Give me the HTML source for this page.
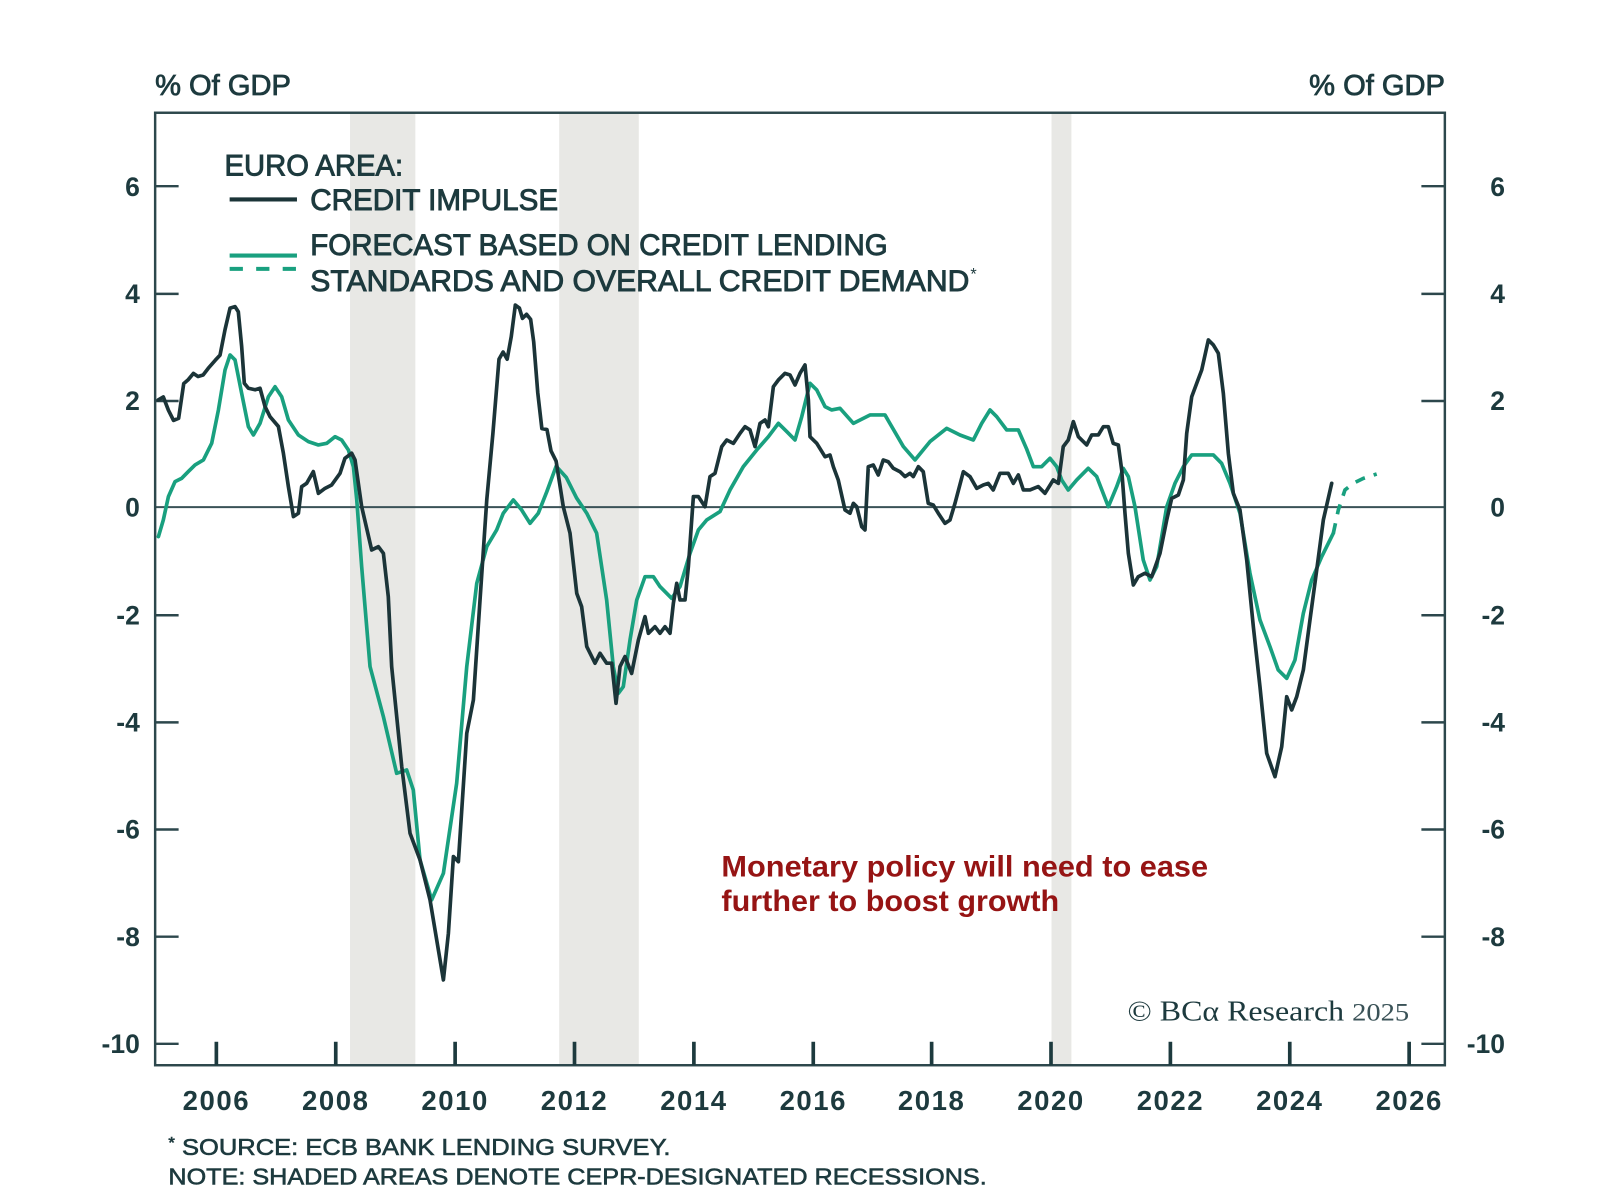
<!DOCTYPE html>
<html>
<head>
<meta charset="utf-8">
<style>
  html, body { margin:0; padding:0; background:#ffffff; }
  svg { display:block; }
  text { font-family: "Liberation Sans", "DejaVu Sans", sans-serif; fill:#1d3a3e; }
</style>
</head>
<body>
<svg width="1600" height="1204" viewBox="0 0 1568 1180" xmlns="http://www.w3.org/2000/svg">
  <rect x="0" y="0" width="1568" height="1180" fill="#ffffff"/>

  <!-- recession shading -->
  <rect x="343" y="111" width="64" height="932" fill="#e8e8e5"/>
  <rect x="548" y="111" width="78" height="932" fill="#e8e8e5"/>
  <rect x="1030.5" y="111" width="19.5" height="932" fill="#e8e8e5"/>

  <!-- zero line -->
  <line x1="152" y1="497" x2="1416" y2="497" stroke="#3a5257" stroke-width="2"/>

  <!-- plot border -->
  <rect x="152" y="110.5" width="1264" height="933.5" fill="none" stroke="#2c474c" stroke-width="2.4"/>

  <!-- left ticks -->
  <g stroke="#2c474c" stroke-width="2.4">
    <line x1="152" y1="182.5" x2="175" y2="182.5"/>
    <line x1="152" y1="288" x2="175" y2="288"/>
    <line x1="152" y1="393" x2="175" y2="393"/>
    <line x1="152" y1="603" x2="175" y2="603"/>
    <line x1="152" y1="708" x2="175" y2="708"/>
    <line x1="152" y1="813" x2="175" y2="813"/>
    <line x1="152" y1="918" x2="175" y2="918"/>
    <line x1="152" y1="1023" x2="175" y2="1023"/>
    <!-- right ticks -->
    <line x1="1393" y1="182.5" x2="1416" y2="182.5"/>
    <line x1="1393" y1="288" x2="1416" y2="288"/>
    <line x1="1393" y1="393" x2="1416" y2="393"/>
    <line x1="1393" y1="603" x2="1416" y2="603"/>
    <line x1="1393" y1="708" x2="1416" y2="708"/>
    <line x1="1393" y1="813" x2="1416" y2="813"/>
    <line x1="1393" y1="918" x2="1416" y2="918"/>
    <line x1="1393" y1="1023" x2="1416" y2="1023"/>
  </g>
  <!-- bottom ticks -->
  <g stroke="#1d3a3e" stroke-width="3.6">
    <line x1="212" y1="1044" x2="212" y2="1021"/>
    <line x1="329" y1="1044" x2="329" y2="1021"/>
    <line x1="446" y1="1044" x2="446" y2="1021"/>
    <line x1="563" y1="1044" x2="563" y2="1021"/>
    <line x1="680" y1="1044" x2="680" y2="1021"/>
    <line x1="797" y1="1044" x2="797" y2="1021"/>
    <line x1="913" y1="1044" x2="913" y2="1021"/>
    <line x1="1030" y1="1044" x2="1030" y2="1021"/>
    <line x1="1147" y1="1044" x2="1147" y2="1021"/>
    <line x1="1264" y1="1044" x2="1264" y2="1021"/>
    <line x1="1381" y1="1044" x2="1381" y2="1021"/>
  </g>

  <!-- axis titles -->
  <text x="152" y="93" font-size="28" textLength="133" lengthAdjust="spacingAndGlyphs" stroke="#1d3a3e" stroke-width="0.8">% Of GDP</text>
  <text x="1283" y="93" font-size="28" textLength="133" lengthAdjust="spacingAndGlyphs" stroke="#1d3a3e" stroke-width="0.8">% Of GDP</text>

  <!-- left tick labels -->
  <g font-size="26" font-weight="bold" text-anchor="end">
    <text x="137" y="192">6</text>
    <text x="137" y="297">4</text>
    <text x="137" y="402">2</text>
    <text x="137" y="506">0</text>
    <text x="137" y="612">-2</text>
    <text x="137" y="717">-4</text>
    <text x="137" y="822">-6</text>
    <text x="137" y="927">-8</text>
    <text x="137" y="1032">-10</text>
  </g>
  <!-- right tick labels -->
  <g font-size="26" font-weight="bold" text-anchor="end">
    <text x="1475" y="192">6</text>
    <text x="1475" y="297">4</text>
    <text x="1475" y="402">2</text>
    <text x="1475" y="506">0</text>
    <text x="1475" y="612">-2</text>
    <text x="1475" y="717">-4</text>
    <text x="1475" y="822">-6</text>
    <text x="1475" y="927">-8</text>
    <text x="1475" y="1032">-10</text>
  </g>

  <!-- year labels -->
  <g font-size="27" font-weight="bold" text-anchor="middle" letter-spacing="1.5">
    <text x="212" y="1088">2006</text>
    <text x="329" y="1088">2008</text>
    <text x="446" y="1088">2010</text>
    <text x="563" y="1088">2012</text>
    <text x="680" y="1088">2014</text>
    <text x="797" y="1088">2016</text>
    <text x="913" y="1088">2018</text>
    <text x="1030" y="1088">2020</text>
    <text x="1147" y="1088">2022</text>
    <text x="1264" y="1088">2024</text>
    <text x="1381" y="1088">2026</text>
  </g>

  <!-- legend -->
  <g font-size="29" stroke="#1d3a3e" stroke-width="0.9">
    <text x="220" y="172" textLength="175" lengthAdjust="spacingAndGlyphs">EURO AREA:</text>
    <text x="304" y="206" textLength="243" lengthAdjust="spacingAndGlyphs">CREDIT IMPULSE</text>
    <text x="304" y="250" textLength="566" lengthAdjust="spacingAndGlyphs">FORECAST BASED ON CREDIT LENDING</text>
    <text x="304" y="285" textLength="646" lengthAdjust="spacingAndGlyphs">STANDARDS AND OVERALL CREDIT DEMAND</text>
  </g>
  <text x="951" y="274" font-size="16">*</text>
  <line x1="225" y1="195.5" x2="291" y2="195.5" stroke="#1b3438" stroke-width="4"/>
  <line x1="225" y1="250.5" x2="291" y2="250.5" stroke="#19a07f" stroke-width="4"/>
  <line x1="225" y1="263.5" x2="291" y2="263.5" stroke="#19a07f" stroke-width="4" stroke-dasharray="13 13"/>

  <!-- green forecast series -->
  <polyline fill="none" stroke="#19a07f" stroke-width="3.6" stroke-linejoin="round" stroke-linecap="round" points="
155.2,525.9 160,509.6 165,486.7 171.5,472 178,468.8 184.5,462.2 191.1,455.7 199.3,450.8 207.4,434.5 214,401.8 220.5,362.6 225.4,347.9 230.3,352.8 236.8,385.5 243.4,418.2 248.3,426.3 254.8,414.9 263,388.8 269.5,379 276,388.8 282.6,411.6 292.4,426.3 302.2,432.8 312,436.1 320.2,434.5 328.3,428 334.8,431.2 341.4,441 346.3,457.4 349.6,490 354.4,555.3 362.6,653.3 375.7,702.4 388.7,757.9 398.5,754.6 405,774.2 411.6,842.8 423,882 434.5,855.9 447.5,767.7 457.4,653.3 467.2,571.7 477,535.7 486.7,519.4 493.2,503 503,490 511.2,499.8 519.4,512.9 527.5,503 535.8,482 545,457 555,468 565,488 575,503 584.7,522.6 594.5,588 601,653.3 606,679.5 610.8,673 617.4,627.2 624,588 632.1,565.2 640.3,565.2 646.8,574.9 658.2,586.4 666.4,574.9 676.2,542.3 684.4,519.4 692.6,509.6 705.6,501.4 715.4,480.2 728.4,457.4 741.6,441 753,428 762.8,414.9 771,423 779.1,431.2 785.7,408.4 793.8,375.7 800.4,382.2 808.5,398.5 815.1,401.8 823.2,400.2 836.3,414.9 852.6,406.7 867.3,406.7 885.3,437.7 896.7,450.8 911.4,432.8 927.8,419.8 940.8,426.3 953.9,431.2 962.1,414.9 970.2,401.8 976.8,408.4 986.6,421.4 998,421.4 1006.1,440 1012.7,457.4 1020.8,457.4 1029,449.2 1035.6,457.4 1040.5,470.4 1046.9,480.2 1055.2,470.4 1066.5,459 1074.8,467.1 1086.2,496.6 1094.4,476.9 1100.8,459 1105.8,467.1 1112.3,496.6 1120.4,548.8 1127,568.4 1133.6,555.3 1143.4,496.6 1151.5,473.7 1159.7,457.4 1167.9,445.9 1177.7,445.9 1189.1,445.9 1197.2,454.1 1205.4,473.7 1215.2,503 1225,561.8 1234.8,607.6 1244.6,633.7 1252.7,656.6 1261,664.8 1269.1,646.8 1277.3,601.1 1285.5,568.4 1295.3,545.6 1306.7,522.6"/>
  <polyline fill="none" stroke="#19a07f" stroke-width="3.6" stroke-dasharray="10 9" stroke-linejoin="round" points="1306.7,522.6 1311.6,499.8 1318.1,480.2 1326.3,473.7 1336.1,468.8 1349.2,464.6"/>

  <!-- dark credit impulse series -->
  <polyline fill="none" stroke="#1b3438" stroke-width="3.6" stroke-linejoin="round" stroke-linecap="round" points="
155,392 160,389 165,402 170,412 175,410 180,376 184.5,372 189.5,366 194,369 199,367.5 204,361 211,353 215.6,348 220.5,323 225.4,302 230.3,300.5 233.5,305.5 236.8,339.7 239.4,375.7 243.4,380.5 250,382 254.8,380.5 259.7,398.5 264.6,408.4 272.8,418 277.7,444.3 282.6,477 287.5,506.3 292.4,503 295.6,477 300.5,473.7 307,462.2 312,483.5 318.5,478.6 325,475.3 333.2,463.9 338,449.2 344.6,444.2 347.9,450.8 354.4,496.5 364.2,539 370.8,535.8 375.7,542.3 380.5,584.8 383.8,653.3 393.7,751.4 401.8,816.6 411.6,842.8 421.4,882 434.5,960.4 439.4,914.7 444.3,839.5 449.2,844.5 457.4,718.7 463.9,686 470.4,588 477,490 483,425 489,352 493,345 497,352 501,330 505,299 509,302 512,312 516,308 520,313 523,335 527,385 531,420 536,421 540,442 545,452 552,496.6 558.6,522.6 565.2,581.5 570,594.6 575,633.7 583.1,650 588,640.3 594.5,650 599.5,650 603.7,689.3 607.6,653.3 612.5,643.5 619,660 625.6,627.2 632.1,604.3 635.4,620.7 641.9,614.2 646.8,620.7 651.7,614.2 656.6,620.7 659.9,591.2 663.2,571.7 666.4,588 671.3,588 674.6,555.3 679.5,486.7 684.4,486.7 690.9,496.6 695.8,467.1 700.7,463.9 707.3,437.7 712.2,431.2 718.7,434.5 725.2,424.7 730.1,418.2 735,421.4 739.9,437.7 744.8,414.9 749.7,411.6 753,418.2 757.9,379 762.8,372.4 769.3,365.9 774.2,367.5 779.1,377.3 784,365.9 788.9,357.7 792.2,392 793.8,428 800.4,434.5 808.5,447.6 813.4,445.9 816.7,457.4 821.5,470.4 828.1,499.8 833,503 836.3,493.3 839.6,496.6 844.5,516.2 847.7,519.4 850.9,457.4 855.8,455.7 860.7,465.5 865.6,450.8 870.5,452.5 875.4,458.9 882,462.3 886.9,467.1 891.8,463.9 895,467.1 900,457.4 904.8,462.3 909.7,493.3 914.6,494.9 919.5,503 926.1,512.9 931,509.6 935.9,493.3 944.1,462.3 950.6,467.1 957.2,478.6 963.6,475.3 968.5,473.7 973.4,480.2 980,463.9 988.1,463.9 993.1,473.7 998,465.5 1002.9,480.2 1009.4,480.2 1017.5,476.9 1024.1,483.5 1032.2,470.4 1037.2,473.7 1042,437.7 1046.9,431.2 1051.9,413.2 1056.8,428 1065,436.1 1069.9,426.3 1076.4,426.3 1081.3,418.2 1086.2,418.2 1091,434.5 1096,436.1 1099.3,460.6 1102.5,503 1105.8,542.3 1110.7,573.3 1115.5,565.2 1122.1,561.8 1128.7,565.2 1136.8,542.3 1143.4,509.6 1148.3,488.4 1154.8,485.1 1159.7,470.4 1163,424.7 1167.9,388.8 1177.7,362.6 1184.2,333.2 1189.1,338.1 1194,346.3 1198.9,385.5 1203.8,444.3 1208.7,483.5 1215.2,499.8 1221.8,548.8 1228.3,614.2 1234.8,673 1241.4,738.3 1249.5,761.2 1256.1,731.8 1261,682.8 1265.9,695.8 1270.8,682.8 1277.3,656.6 1283.8,607.6 1290.4,558.6 1296.9,509.6 1305.1,473.7"/>

  <!-- annotation -->
  <g font-size="29" font-weight="bold">
    <text x="707" y="859" style="fill:#961414" textLength="477" lengthAdjust="spacingAndGlyphs">Monetary policy will need to ease</text>
    <text x="707" y="893" style="fill:#961414" textLength="331" lengthAdjust="spacingAndGlyphs">further to boost growth</text>
  </g>

  <!-- copyright -->
  <text x="1105" y="1000" font-size="28" style="font-family:'Liberation Serif','DejaVu Serif',serif;fill:#1d3a3e" textLength="276" lengthAdjust="spacingAndGlyphs">© BCα Research <tspan font-size="25" style="fill:#3a5257">2025</tspan></text>

  <!-- footnotes -->
  <g font-size="23" stroke="#1d3a3e" stroke-width="0.6">
    <text x="165" y="1132" textLength="492" lengthAdjust="spacingAndGlyphs"><tspan font-size="15" dy="-7">*</tspan><tspan dy="7"> SOURCE: ECB BANK LENDING SURVEY.</tspan></text>
    <text x="165" y="1161" textLength="802" lengthAdjust="spacingAndGlyphs">NOTE: SHADED AREAS DENOTE CEPR-DESIGNATED RECESSIONS.</text>
  </g>
</svg>
</body>
</html>
